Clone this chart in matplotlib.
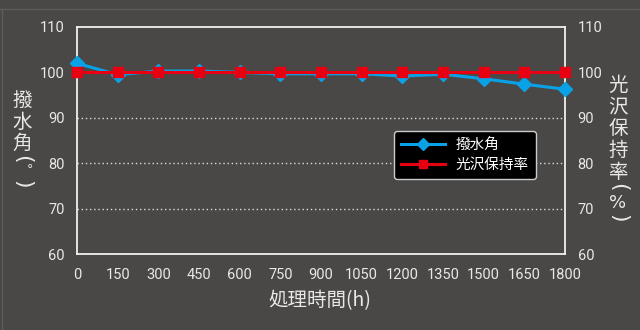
import matplotlib
matplotlib.use("Agg")
import matplotlib.pyplot as plt
from matplotlib.lines import Line2D

plt.rcParams['font.family'] = ['Noto Sans CJK JP', 'DejaVu Sans']

hours = [0, 150, 300, 450, 600, 750, 900, 1050, 1200, 1350, 1500, 1650, 1800]
contact_angle = [102.0, 99.5, 100.3, 100.3, 100.0, 99.7, 99.7, 99.7, 99.2, 99.6, 98.6, 97.4, 96.3]
gloss_retention = [100, 100, 100, 100, 100, 100, 100, 100, 100, 100, 100, 100, 100]
y_ticks = [60, 70, 80, 90, 100, 110]
left_label = ['撥', '水', '角']
right_label = ['光', '沢', '保', '持', '率']

bg = '#4a4846'
fg = '#e8e8e8'
blue = '#0aa2e6'
red = '#e60012'
tick_font = ['Roboto', 'DejaVu Sans']

fig = plt.figure(figsize=(6.4, 3.3), dpi=100, facecolor=bg)
ax = fig.add_axes([77/640, 1-254/330, (565-77)/640, (254-27)/330])
ax.set_facecolor(bg)

ax.plot(hours, contact_angle, color=blue, lw=2.2, marker='D', ms=7, label='撥水角', zorder=3, clip_on=False)
ax.plot(hours, gloss_retention, color=red, lw=2.2, marker='s', ms=6.5, label='光沢保持率', zorder=4, clip_on=False)

ax.set_xlim(0, 1800)
ax.set_ylim(60, 110)
ax.set_xticks(hours)
ax.set_yticks(y_ticks)
for v in [70, 80, 90]:
    ax.axhline(v, color='#dddddd', lw=1, ls=(0, (1, 2)), zorder=1)

for s in ax.spines.values():
    s.set_color('#f0f0f0')
    s.set_linewidth(1.3)
    s.set_zorder(2)

ax.tick_params(axis='both', length=0, colors=fg, labelsize=10.5)
ax.tick_params(axis='x', pad=10)
ax.tick_params(axis='y', pad=9)
for lab in ax.get_xticklabels() + ax.get_yticklabels():
    lab.set_family(tick_font)

ax2 = ax.twinx()
ax2.set_ylim(60, 110)
ax2.set_yticks(y_ticks)
ax2.tick_params(axis='y', length=0, colors=fg, labelsize=10.5, pad=9)
for lab in ax2.get_yticklabels():
    lab.set_family(tick_font)
for s in ax2.spines.values():
    s.set_visible(False)
ax.set_zorder(ax2.get_zorder() + 1)
ax.patch.set_visible(False)
fig.patch.set_facecolor(bg)

def px(x, y):
    return x/640, 1-y/330

dv = ['DejaVu Sans']

# left vertical label
for ch, y in zip(left_label, [100, 122, 143]):
    fig.text(*px(22, y), ch, color=fg, fontsize=14, ha='center', va='center')
fig.text(*px(22, 159), '(', color=fg, fontsize=16, ha='center', va='center', rotation=-90, family=dv)
fig.text(*px(30, 170), '°', color=fg, fontsize=9, ha='center', va='center', family=dv)
fig.text(*px(22, 184), ')', color=fg, fontsize=16, ha='center', va='center', rotation=-90, family=dv)

# right vertical label
for ch, y in zip(right_label, [85, 107, 128, 150, 172]):
    fig.text(*px(618, y), ch, color=fg, fontsize=14, ha='center', va='center')
fig.text(*px(618, 187), '(', color=fg, fontsize=16, ha='center', va='center', rotation=-90, family=dv)
fig.text(*px(618, 203), '%', color=fg, fontsize=13, ha='center', va='center', family=dv)
fig.text(*px(618, 218), ')', color=fg, fontsize=16, ha='center', va='center', rotation=-90, family=dv)

fig.text(*px(320, 301), '処理時間(h)', color=fg, fontsize=14, ha='center', va='center')

handles = [Line2D([0], [0], color=blue, lw=2.2, marker='D', ms=6.5),
           Line2D([0], [0], color=red, lw=2.2, marker='s', ms=6)]
leg = ax.legend(handles, ['撥水角', '光沢保持率'], loc='center',
                bbox_to_anchor=(0.795, 0.436),
                facecolor='black', edgecolor='#cccccc', framealpha=1,
                fontsize=10.5, labelcolor='white', handlelength=3.0, borderpad=0.5,
                labelspacing=0.4, handletextpad=0.7, fancybox=True)
leg.get_frame().set_linewidth(1.0)

fig.add_artist(Line2D([0, 1], [1-9/330, 1-9/330], color='#5e5c5a', lw=1, transform=fig.transFigure))
fig.add_artist(Line2D([1.5/640, 1.5/640], [0, 1-9/330], color='#5e5c5a', lw=1, transform=fig.transFigure))

fig.savefig('out.png', dpi=100, facecolor=bg)
